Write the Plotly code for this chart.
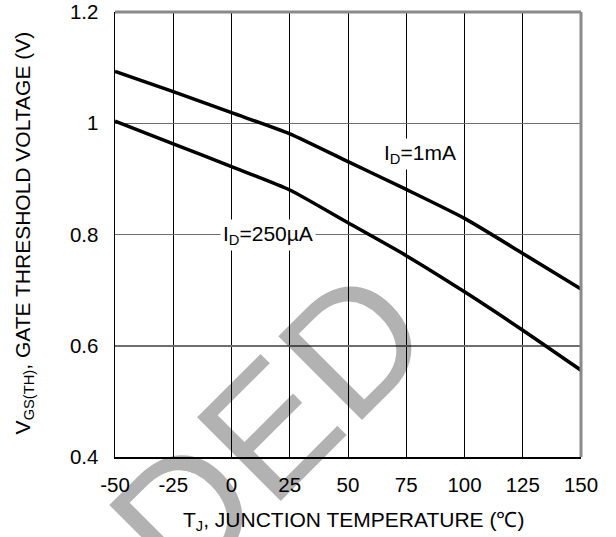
import plotly.graph_objects as go

# Data
temperature_c = [-50, -25, 0, 25, 50, 75, 100, 125, 150]
vgs_th_1mA = [1.093, 1.057, 1.019, 0.981, 0.931, 0.881, 0.829, 0.766, 0.702]
vgs_th_250uA = [1.004, 0.963, 0.922, 0.880, 0.821, 0.762, 0.697, 0.628, 0.556]

x_ticks = [-50, -25, 0, 25, 50, 75, 100, 125, 150]
x_tick_labels = ["-50", "-25", "0", "25", "50", "75", "100", "125", "150"]
y_ticks = [0.4, 0.6, 0.8, 1.0, 1.2]
y_tick_labels = ["0.4", "0.6", "0.8", "1", "1.2"]

label_1mA = "I<sub>D</sub>=1mA"
label_250uA = "I<sub>D</sub>=250µA"
x_title = "T<sub>J</sub>, JUNCTION TEMPERATURE (℃)"
y_title = "V<sub>GS(TH)</sub>, GATE THRESHOLD VOLTAGE (V)"
watermark = "DED"  # visible part of the diagonal watermark

FONT = "Arial, Liberation Sans, sans-serif"

fig = go.Figure()
for ys in (vgs_th_1mA, vgs_th_250uA):
    fig.add_trace(go.Scatter(x=temperature_c, y=ys, mode="lines",
                             line=dict(color="black", width=3.5, shape="spline",
                                       smoothing=0.6),
                             showlegend=False, hoverinfo="skip"))

fig.update_layout(
    width=616, height=537,
    margin=dict(l=114.5, r=35, t=12, b=79.7, autoexpand=False),
    paper_bgcolor="white", plot_bgcolor="white",
    font=dict(family=FONT, color="black", size=20.5),
    hovermode=False,
)

fig.update_xaxes(
    range=[-50, 150], tickvals=x_ticks, ticktext=x_tick_labels,
    showgrid=True, gridcolor="black", gridwidth=1,
    showline=True, linecolor="black", linewidth=2, mirror=False,
    zeroline=False, ticks="outside", ticklen=8, tickcolor="rgba(0,0,0,0)",
    tickfont=dict(size=20.5), automargin=False, ticklabeloverflow="allow",
)
fig.update_yaxes(
    range=[0.4, 1.2], tickvals=y_ticks, ticktext=y_tick_labels,
    showgrid=True, gridcolor="#6e6e6e", gridwidth=1.5,
    showline=True, linecolor="black", linewidth=1.5, mirror=False,
    zeroline=False, ticks="outside", ticklen=11, tickcolor="rgba(0,0,0,0)",
    tickfont=dict(size=20.5), automargin=False, ticklabeloverflow="allow",
)

# top and right frame (gray)
fig.add_shape(type="line", xref="paper", yref="paper", x0=0, x1=1, y0=1, y1=1,
              line=dict(color="#8a8a8a", width=3))
fig.add_shape(type="line", xref="paper", yref="paper", x0=1, x1=1, y0=0, y1=1,
              line=dict(color="#8a8a8a", width=3))

# axis titles
fig.add_annotation(xref="paper", yref="paper", x=0.512, y=-0.143, text=x_title,
                   showarrow=False, font=dict(size=21),
                   xanchor="center", yanchor="middle")
fig.add_annotation(xref="paper", yref="paper", x=-0.196, y=0.504, text=y_title,
                   showarrow=False, font=dict(size=21), textangle=-90,
                   xanchor="center", yanchor="middle")

# curve labels
fig.add_annotation(x=81, y=0.945, text=label_1mA, showarrow=False,
                   font=dict(size=21), bgcolor="white", borderpad=2,
                   xanchor="center", yanchor="middle")
fig.add_annotation(x=15.8, y=0.80, text=label_250uA, showarrow=False,
                   font=dict(size=21), bgcolor="white", borderpad=2,
                   xanchor="center", yanchor="middle")

# watermark (semi-transparent so dark marks underneath stay dark)
fig.add_annotation(xref="paper", yref="paper", x=0.330, y=0.066,
                   text=watermark, showarrow=False, textangle=-45,
                   font=dict(size=172, family=FONT, color="rgba(0,0,0,0.30)"),
                   xanchor="center", yanchor="middle")

fig.write_html("out.html",
               config={"displayModeBar": False, "staticPlot": True},
               post_script="document.body.style.margin='0';"
                           "document.body.style.padding='0';")
